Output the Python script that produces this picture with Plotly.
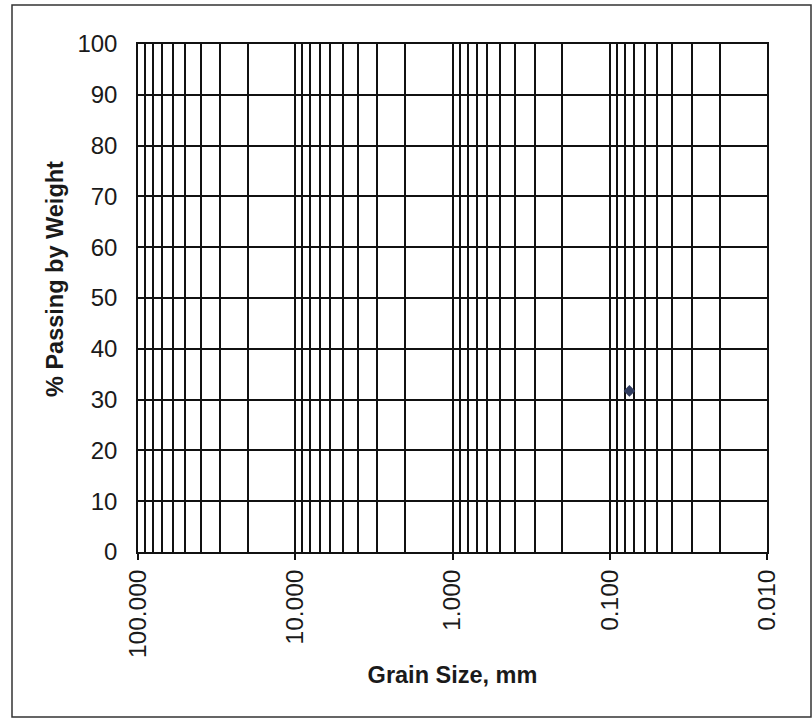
import plotly.graph_objects as go

# Data
grain_size_mm = [0.075]
percent_passing = [31.7]

x_tick_values = [100, 10, 1, 0.1, 0.01]
x_tick_labels = ["100.000", "10.000", "1.000", "0.100", "0.010"]
y_tick_values = [0, 10, 20, 30, 40, 50, 60, 70, 80, 90, 100]

minor_grid = [m * d for d in [0.01, 0.1, 1, 10] for m in range(2, 10)]

fig = go.Figure()
fig.add_trace(go.Scatter(
    x=grain_size_mm, y=percent_passing, mode="markers",
    marker=dict(symbol="diamond", size=9, color="#2f3b5e"),
    showlegend=False,
))

L, R, T, B = 138, 45, 44, 170
W, H = 812, 722
pw, ph = W - L - R, H - T - B

fig.update_layout(
    width=W, height=H,
    margin=dict(l=L, r=R, t=T, b=B, autoexpand=False),
    paper_bgcolor="white", plot_bgcolor="white",
    font=dict(family="Liberation Sans, Arial, sans-serif", color="#1a1a1a", size=24),
    xaxis=dict(
        type="log", range=[2, -2],
        tickmode="array", tickvals=x_tick_values, ticktext=x_tick_labels,
        tickangle=-90, ticks="outside", ticklen=6, tickcolor="#111", tickwidth=1.5,
        showgrid=True, gridcolor="#111", gridwidth=1.5,
        minor=dict(tickmode="array", tickvals=minor_grid, showgrid=True,
                   gridcolor="#111", gridwidth=1.5, ticks=""),
        showline=True, linecolor="#111", linewidth=1.5, mirror=True,
        zeroline=False,
        title=dict(text="<b>Grain Size, mm</b>", font=dict(size=23.5), standoff=9),
        tickfont=dict(size=24.5),
    ),
    yaxis=dict(
        range=[0, 100], tickmode="array", tickvals=y_tick_values,
        ticks="", showgrid=True, gridcolor="#111", gridwidth=1.5,
        showline=True, linecolor="#111", linewidth=1.5, mirror=True,
        zeroline=False, ticklabelstandoff=14,
        tickfont=dict(size=24),
    ),
)

fig.add_annotation(
    text="<b>% Passing by Weight</b>", textangle=-90,
    xref="paper", yref="paper", x=(55 - L) / pw, y=(T + ph - 279) / ph,
    xanchor="center", yanchor="middle", showarrow=False,
    font=dict(size=23.5),
)

# outer frame
fig.add_shape(type="rect", xref="paper", yref="paper",
              x0=(12 - L) / pw, x1=(811 - L) / pw,
              y0=-(717 - (T + ph)) / ph, y1=1 + (T - 5) / ph,
              line=dict(color="#333", width=1.5), layer="below")

fig.write_html("out.html")
